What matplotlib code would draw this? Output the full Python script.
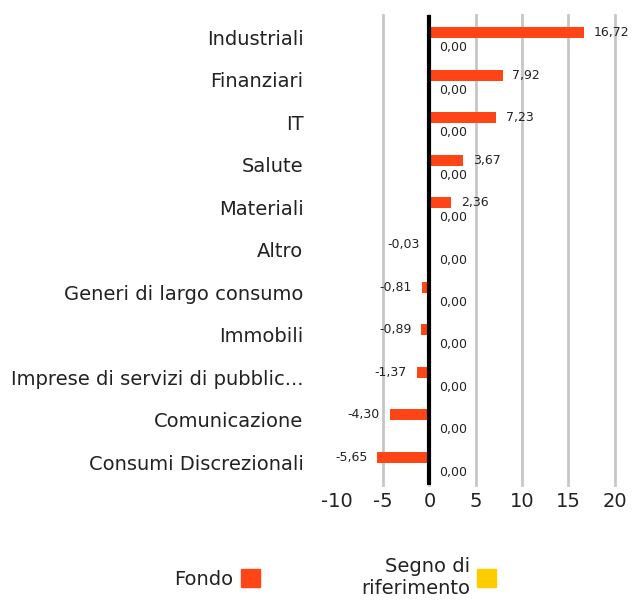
import matplotlib.pyplot as plt
import numpy as np
from matplotlib.patches import Patch
from matplotlib.transforms import ScaledTranslation

plt.rcParams['font.family'] = ['DejaVu Sans']

settori = ["Industriali", "Finanziari", "IT", "Salute", "Materiali", "Altro",
           "Generi di largo consumo", "Immobili", "Imprese di servizi di pubblic...",
           "Comunicazione", "Consumi Discrezionali"]
fondo = [16.72, 7.92, 7.23, 3.67, 2.36, -0.03, -0.81, -0.89, -1.37, -4.30, -5.65]
riferimento = [0.00] * len(settori)

col_fondo = "#ff4516"
col_rif = "#ffcc00"

fig = plt.figure(figsize=(6.33, 6.03), dpi=100)
ax = fig.add_axes([0.532, 0.196, 0.439, 0.779])

y = np.arange(len(settori))
h = 0.26
off = 0.177
ax.barh(y - off, fondo, height=h, color=col_fondo)
ax.barh(y + off, riferimento, height=h, color=col_rif)

def fmt(v):
    return f"{v:.2f}".replace(".", ",")

for yi, v in zip(y, fondo):
    ax.annotate(fmt(v), (v, yi - off), xytext=(7 if v >= 0 else -7, 0),
                textcoords="offset points", va="center",
                ha="left" if v >= 0 else "right", fontsize=9, color="#222222")
for yi, v in zip(y, riferimento):
    ax.annotate(fmt(v), (v, yi + off), xytext=(7, 0),
                textcoords="offset points", va="center", ha="left",
                fontsize=9, color="#222222")

ax.set_xlim(-10, 20)
ax.set_ylim(10.47, -0.59)
ax.set_xticks([-10, -5, 0, 5, 10, 15, 20])
ax.set_xticklabels(["-10", "-5", "0", "5", "10", "15", "20"])
ax.set_yticks(y)
ax.set_yticklabels(settori)
ax.tick_params(axis="y", length=0, pad=24, labelsize=14, labelcolor="#222222")
ax.tick_params(axis="x", length=0, pad=5, labelsize=14, labelcolor="#222222")
# etichette categorie leggermente più in alto
shift = ScaledTranslation(0, 2 / 72, fig.dpi_scale_trans)
for lbl in ax.get_yticklabels():
    lbl.set_transform(lbl.get_transform() + shift)
for s in ax.spines.values():
    s.set_visible(False)
ax.grid(axis="x", color="#c6c6c6", linewidth=2)
ax.set_axisbelow(True)
grid = ax.get_xgridlines()
grid[0].set_visible(False)
for gl in grid:
    gl.set_clip_on(False)
ax.axvline(0, color="black", linewidth=3, zorder=3)

handles = [Patch(color=col_fondo), Patch(color=col_rif)]
leg = fig.legend(handles, ["Fondo", "Segno di\nriferimento"], loc="center",
                 bbox_to_anchor=(0.53, 0.043), ncol=2, frameon=False,
                 markerfirst=False, fontsize=14, handlelength=1.0,
                 handleheight=1.0, handletextpad=0.35, columnspacing=5.2)
for t in leg.get_texts():
    t.set_multialignment("right")
    t.set_color("#222222")

fig.savefig("out.png", dpi=100)
